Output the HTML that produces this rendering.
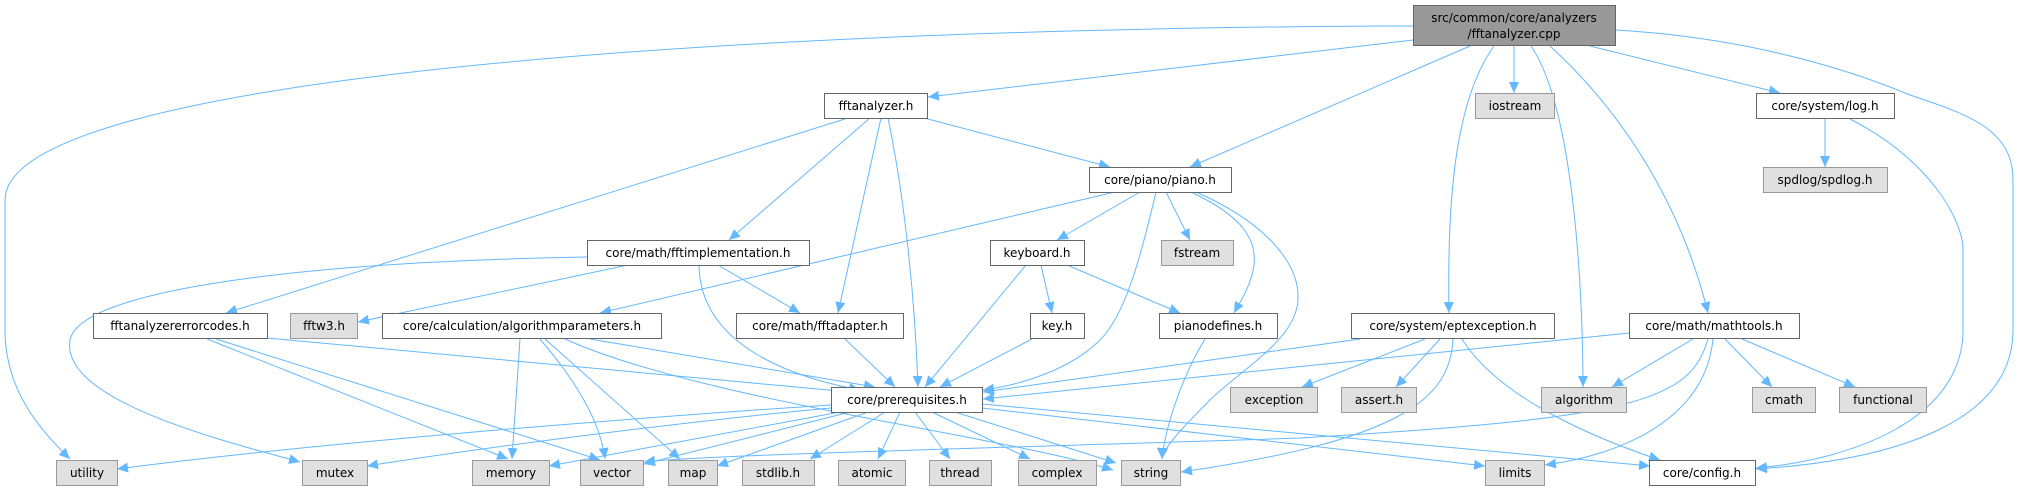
<!DOCTYPE html>
<html><head><meta charset="utf-8"><style>
html,body{margin:0;padding:0;background:#fff;}
svg{display:block}
text{font-family:"DejaVu Sans","Liberation Sans",sans-serif;font-size:12px;fill:#000;text-anchor:middle}
.w{fill:#fff;stroke:#666;stroke-width:1}
.g{fill:#e0e0e0;stroke:#999;stroke-width:1}
.r{fill:#999;stroke:#666;stroke-width:1}
path.e{fill:none;stroke:#63b8ff;stroke-width:1}
</style></head><body>
<svg width="2020" height="491" viewBox="0 0 2020 491" xmlns="http://www.w3.org/2000/svg">
<defs><marker id="a" markerWidth="12" markerHeight="10" refX="11" refY="5" orient="auto" markerUnits="userSpaceOnUse"><path d="M0,0 L11,5 L0,10 z" fill="#63b8ff"/></marker></defs>
<g>
<!-- root edges -->
<path class="e" marker-end="url(#a)" d="M1413,26 C700,28 5,80 5,200 L5,330 C5,390 40,430 70,459"/>
<path class="e" marker-end="url(#a)" d="M1413,40 L928,97"/>
<path class="e" marker-end="url(#a)" d="M1470,46 L1190,167"/>
<path class="e" marker-end="url(#a)" d="M1494,46 C1455,100 1447,200 1449,313"/>
<path class="e" marker-end="url(#a)" d="M1514,46 L1514,93"/>
<path class="e" marker-end="url(#a)" d="M1531,46 C1575,110 1583,300 1583,387"/>
<path class="e" marker-end="url(#a)" d="M1550,46 C1620,110 1680,200 1708,313"/>
<path class="e" marker-end="url(#a)" d="M1590,46 L1780,93"/>
<path class="e" marker-end="url(#a)" d="M1616,30 C1750,38 1850,70 1910,95 C1970,115 2013,130 2013,180 L2013,330 C2013,420 1900,460 1756,469"/>
<!-- fftanalyzer.h -->
<path class="e" marker-end="url(#a)" d="M848,118 L226,313"/>
<path class="e" marker-end="url(#a)" d="M870,118 L729,240"/>
<path class="e" marker-end="url(#a)" d="M881,118 L838,313"/>
<path class="e" marker-end="url(#a)" d="M888,118 C905,200 915,300 918,387"/>
<path class="e" marker-end="url(#a)" d="M924,118 L1110,167"/>
<!-- piano.h -->
<path class="e" marker-end="url(#a)" d="M1115,192 L600,313"/>
<path class="e" marker-end="url(#a)" d="M1140,192 L1057,240"/>
<path class="e" marker-end="url(#a)" d="M1156,192 C1140,260 1125,315 1100,340 C1070,370 1020,385 983,390"/>
<path class="e" marker-end="url(#a)" d="M1166,192 L1190,240"/>
<path class="e" marker-end="url(#a)" d="M1191,192 C1240,215 1262,240 1252,275 C1247,292 1240,302 1234,313"/>
<path class="e" marker-end="url(#a)" d="M1196,192 C1260,220 1300,260 1298,300 C1296,340 1240,370 1210,400 C1180,430 1162,450 1162,459"/>
<!-- fftimplementation -->
<path class="e" marker-end="url(#a)" d="M587,257 C300,262 80,290 70,340 C60,400 220,440 300,462"/>
<path class="e" marker-end="url(#a)" d="M628,265 L358,322"/>
<path class="e" marker-end="url(#a)" d="M718,265 L800,313"/>
<path class="e" marker-end="url(#a)" d="M699,265 C700,340 780,375 860,390"/>
<!-- keyboard -->
<path class="e" marker-end="url(#a)" d="M1067,265 L1180,313"/>
<path class="e" marker-end="url(#a)" d="M1041,265 L1052,313"/>
<path class="e" marker-end="url(#a)" d="M1026,265 L925,387"/>
<path class="e" marker-end="url(#a)" d="M1032,339 L940,387"/>
<path class="e" marker-end="url(#a)" d="M1205,339 C1180,380 1165,430 1162,459"/>
<path class="e" marker-end="url(#a)" d="M845,339 L895,387"/>
<!-- errcodes -->
<path class="e" marker-end="url(#a)" d="M267,338 C500,360 700,378 850,392"/>
<path class="e" marker-end="url(#a)" d="M207,339 L508,459"/>
<path class="e" marker-end="url(#a)" d="M216,339 L600,460"/>
<!-- algparams -->
<path class="e" marker-end="url(#a)" d="M520,339 L512,459"/>
<path class="e" marker-end="url(#a)" d="M540,339 C575,380 600,420 605,459"/>
<path class="e" marker-end="url(#a)" d="M545,339 L680,459"/>
<path class="e" marker-end="url(#a)" d="M590,339 L875,387"/>
<path class="e" marker-end="url(#a)" d="M565,339 C700,400 1000,435 1113,470"/>
<!-- eptexception -->
<path class="e" marker-end="url(#a)" d="M1360,339 L983,392"/>
<path class="e" marker-end="url(#a)" d="M1425,339 L1302,387"/>
<path class="e" marker-end="url(#a)" d="M1440,339 L1396,387"/>
<path class="e" marker-end="url(#a)" d="M1453,339 C1450,400 1400,440 1181,472"/>
<path class="e" marker-end="url(#a)" d="M1462,339 C1500,400 1600,440 1660,460"/>
<!-- mathtools -->
<path class="e" marker-end="url(#a)" d="M1629,333 L983,399"/>
<path class="e" marker-end="url(#a)" d="M1693,339 L1612,387"/>
<path class="e" marker-end="url(#a)" d="M1725,339 L1772,387"/>
<path class="e" marker-end="url(#a)" d="M1742,339 L1855,387"/>
<path class="e" marker-end="url(#a)" d="M1713,339 C1705,420 1620,455 1545,465"/>
<path class="e" marker-end="url(#a)" d="M1708,339 C1690,400 1640,418 1300,438 C1000,448 700,455 644,462"/>
<!-- log.h -->
<path class="e" marker-end="url(#a)" d="M1825,119 L1825,167"/>
<path class="e" marker-end="url(#a)" d="M1850,119 C1930,160 1963,220 1963,250 L1963,330 C1963,420 1850,460 1756,468"/>
<!-- prerequisites -->
<path class="e" marker-end="url(#a)" d="M831,405 C600,420 300,445 117,469"/>
<path class="e" marker-end="url(#a)" d="M831,408 C700,420 500,445 367,466"/>
<path class="e" marker-end="url(#a)" d="M840,412 L549,466"/>
<path class="e" marker-end="url(#a)" d="M850,412 L644,464"/>
<path class="e" marker-end="url(#a)" d="M868,412 L717,466"/>
<path class="e" marker-end="url(#a)" d="M885,412 L810,459"/>
<path class="e" marker-end="url(#a)" d="M900,412 L878,459"/>
<path class="e" marker-end="url(#a)" d="M915,412 L950,459"/>
<path class="e" marker-end="url(#a)" d="M932,412 L1030,459"/>
<path class="e" marker-end="url(#a)" d="M955,412 L1116,463"/>
<path class="e" marker-end="url(#a)" d="M982,408 L1485,466"/>
<path class="e" marker-end="url(#a)" d="M982,404 L1650,466"/>
</g>
<g>
<rect class="r" x="1413.5" y="5.5" width="202" height="40"/>
<text x="1514" y="22">src/common/core/analyzers</text><text x="1514" y="38">/fftanalyzer.cpp</text>
<rect class="w" x="824.5" y="93.5" width="103" height="25"/><text x="876" y="110">fftanalyzer.h</text>
<rect class="g" x="1475.5" y="93.5" width="79" height="25"/><text x="1515" y="110">iostream</text>
<rect class="w" x="1756.5" y="93.5" width="138" height="25"/><text x="1825" y="110">core/system/log.h</text>
<rect class="w" x="1089.5" y="167.5" width="142" height="25"/><text x="1160" y="184">core/piano/piano.h</text>
<rect class="g" x="1763.5" y="167.5" width="124" height="25"/><text x="1825" y="184">spdlog/spdlog.h</text>
<rect class="w" x="587.5" y="240.5" width="222" height="25"/><text x="698" y="257">core/math/fftimplementation.h</text>
<rect class="w" x="990.5" y="240.5" width="94" height="25"/><text x="1037" y="257">keyboard.h</text>
<rect class="g" x="1161.5" y="240.5" width="72" height="25"/><text x="1197" y="257">fstream</text>
<rect class="w" x="93.5" y="313.5" width="174" height="25"/><text x="180" y="330">fftanalyzererrorcodes.h</text>
<rect class="g" x="290.5" y="313.5" width="67" height="25"/><text x="324" y="330">fftw3.h</text>
<rect class="w" x="382.5" y="313.5" width="279" height="25"/><text x="522" y="330">core/calculation/algorithmparameters.h</text>
<rect class="w" x="736.5" y="313.5" width="167" height="25"/><text x="820" y="330">core/math/fftadapter.h</text>
<rect class="w" x="1030.5" y="313.5" width="54" height="25"/><text x="1057" y="330">key.h</text>
<rect class="w" x="1159.5" y="313.5" width="118" height="25"/><text x="1218" y="330">pianodefines.h</text>
<rect class="w" x="1351.5" y="313.5" width="203" height="25"/><text x="1453" y="330">core/system/eptexception.h</text>
<rect class="w" x="1629.5" y="313.5" width="170" height="25"/><text x="1714" y="330">core/math/mathtools.h</text>
<rect class="w" x="831.5" y="387.5" width="151" height="25"/><text x="907" y="404">core/prerequisites.h</text>
<rect class="g" x="1230.5" y="387.5" width="87" height="25"/><text x="1274" y="404">exception</text>
<rect class="g" x="1341.5" y="387.5" width="75" height="25"/><text x="1379" y="404">assert.h</text>
<rect class="g" x="1541.5" y="387.5" width="85" height="25"/><text x="1584" y="404">algorithm</text>
<rect class="g" x="1752.5" y="387.5" width="63" height="25"/><text x="1784" y="404">cmath</text>
<rect class="g" x="1839.5" y="387.5" width="87" height="25"/><text x="1883" y="404">functional</text>
<rect class="g" x="56.5" y="460.5" width="61" height="25"/><text x="87" y="477">utility</text>
<rect class="g" x="302.5" y="460.5" width="65" height="25"/><text x="335" y="477">mutex</text>
<rect class="g" x="472.5" y="460.5" width="77" height="25"/><text x="511" y="477">memory</text>
<rect class="g" x="580.5" y="460.5" width="63" height="25"/><text x="612" y="477">vector</text>
<rect class="g" x="668.5" y="460.5" width="49" height="25"/><text x="693" y="477">map</text>
<rect class="g" x="742.5" y="460.5" width="72" height="25"/><text x="778" y="477">stdlib.h</text>
<rect class="g" x="838.5" y="460.5" width="67" height="25"/><text x="872" y="477">atomic</text>
<rect class="g" x="929.5" y="460.5" width="62" height="25"/><text x="960" y="477">thread</text>
<rect class="g" x="1018.5" y="460.5" width="78" height="25"/><text x="1057" y="477">complex</text>
<rect class="g" x="1121.5" y="460.5" width="59" height="25"/><text x="1151" y="477">string</text>
<rect class="g" x="1485.5" y="460.5" width="59" height="25"/><text x="1515" y="477">limits</text>
<rect class="w" x="1649.5" y="460.5" width="106" height="25"/><text x="1702" y="477">core/config.h</text>
</g>
</svg>
</body></html>
